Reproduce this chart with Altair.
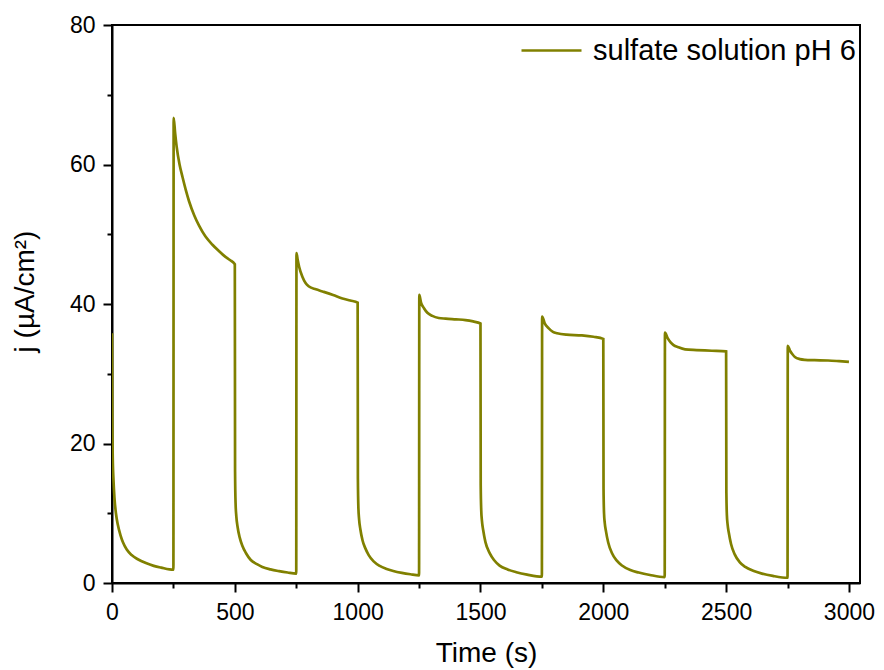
import altair as alt
import pandas as pd

# Time (s) and current density j (uA/cm2), read segment by segment (light off / on every 250 s)
t_off_0 = [0, 1, 3, 6, 10, 16, 24, 35, 45, 60, 80, 105, 138, 170, 200, 250]
j_off_0 = [35.8, 25.0, 18.0, 14.8, 12.2, 10.0, 8.3, 6.8, 5.8, 4.8, 4.0, 3.4, 2.85, 2.45, 2.2, 1.9]

t_on_1 = [251, 257, 263, 275, 287, 300, 314, 335, 355, 380, 409, 435, 457, 480, 500]
j_on_1 = [66.7, 64.5, 62.6, 60.0, 58.2, 56.4, 54.7, 52.7, 51.2, 49.7, 48.5, 47.6, 46.9, 46.3, 45.7]

t_off_1 = [501, 503, 506, 511, 520, 531, 545, 565, 590, 612, 645, 680, 715, 750]
j_off_1 = [16.0, 11.5, 9.6, 8.1, 6.5, 5.3, 4.3, 3.3, 2.7, 2.3, 1.95, 1.7, 1.5, 1.35]

t_on_2 = [751, 756, 762, 775, 788, 802, 830, 857, 900, 938, 970, 1000]
j_on_2 = [47.3, 46.3, 45.3, 43.9, 43.0, 42.5, 42.1, 41.8, 41.3, 40.8, 40.5, 40.2]

t_off_2 = [1001, 1003, 1006, 1011, 1020, 1031, 1045, 1065, 1090, 1115, 1145, 1180, 1215, 1250]
j_off_2 = [15.0, 10.8, 9.1, 7.7, 6.1, 5.0, 4.0, 3.1, 2.45, 2.05, 1.72, 1.45, 1.25, 1.1]

t_on_3 = [1251, 1258, 1270, 1285, 1304, 1330, 1358, 1400, 1439, 1470, 1500]
j_on_3 = [41.3, 40.2, 39.4, 38.7, 38.3, 38.0, 37.9, 37.8, 37.7, 37.5, 37.2]

t_off_3 = [1501, 1503, 1506, 1511, 1520, 1538, 1555, 1578, 1610, 1646, 1690, 1750]
j_off_3 = [14.0, 10.5, 8.9, 7.6, 5.9, 4.25, 3.3, 2.5, 1.95, 1.55, 1.2, 0.9]

t_on_4 = [1751, 1762, 1778, 1795, 1812, 1850, 1913, 1960, 2000]
j_on_4 = [38.2, 37.2, 36.5, 36.0, 35.8, 35.6, 35.5, 35.3, 35.0]

t_off_4 = [2001, 2003, 2006, 2011, 2020, 2035, 2055, 2076, 2110, 2144, 2190, 2250]
j_off_4 = [13.5, 10.0, 8.6, 7.4, 5.8, 4.3, 3.2, 2.5, 1.85, 1.5, 1.15, 0.85]

t_on_5 = [2251, 2262, 2274, 2286, 2305, 2333, 2380, 2442, 2500]
j_on_5 = [35.9, 35.1, 34.5, 34.1, 33.8, 33.5, 33.4, 33.3, 33.2]

t_off_5 = [2501, 2503, 2506, 2511, 2520, 2535, 2555, 2578, 2610, 2646, 2690, 2750]
j_off_5 = [13.0, 9.8, 8.4, 7.2, 5.6, 4.1, 3.0, 2.3, 1.75, 1.35, 1.02, 0.75]

t_on_6 = [2751, 2760, 2770, 2780, 2800, 2821, 2860, 2915, 2960, 3000]
j_on_6 = [34.0, 33.3, 32.8, 32.4, 32.1, 32.0, 31.95, 31.9, 31.8, 31.7]

series_name = "sulfate solution pH 6"
x_major = [0, 500, 1000, 1500, 2000, 2500, 3000]
x_minor = [250, 750, 1250, 1750, 2250, 2750]
y_major = [0, 20, 40, 60, 80]
y_minor = [10, 30, 50, 70]

t_all = (t_off_0 + t_on_1 + t_off_1 + t_on_2 + t_off_2 + t_on_3 + t_off_3
         + t_on_4 + t_off_4 + t_on_5 + t_off_5 + t_on_6)
j_all = (j_off_0 + j_on_1 + j_off_1 + j_on_2 + j_off_2 + j_on_3 + j_off_3
         + j_on_4 + j_off_4 + j_on_5 + j_off_5 + j_on_6)

df = pd.DataFrame({"t": t_all, "j": j_all, "idx": list(range(len(t_all))),
                   "series": [series_name] * len(t_all)})

FONT = "Liberation Sans"
xscale = alt.Scale(domain=[0, 3045], nice=False, zero=False)
yscale = alt.Scale(domain=[0, 80], nice=False)

main = alt.Chart(df).mark_line(strokeWidth=2.7, clip=True, interpolate="monotone").encode(
    x=alt.X("t:Q", scale=xscale, axis=alt.Axis(
        values=x_major, format="d", title="Time (s)", orient="bottom", grid=False,
        tickSize=9, tickWidth=2, domainWidth=2, domainColor="black", tickColor="black",
        labelFont=FONT, labelFontSize=23, labelColor="black", labelPadding=9,
        labelFlush=False, titleFont=FONT, titleFontSize=28, titleFontWeight="normal",
        titleColor="black", titlePadding=15)),
    y=alt.Y("j:Q", scale=yscale, axis=alt.Axis(
        values=y_major, format="d", title="j (µA/cm²)", orient="left", grid=False,
        tickSize=9, tickWidth=2, domainWidth=2, domainColor="black", tickColor="black",
        labelFont=FONT, labelFontSize=23, labelColor="black", labelPadding=8,
        labelFlush=False, titleFont=FONT, titleFontSize=28, titleFontWeight="normal",
        titleColor="black", titlePadding=30, titleY=266)),
    color=alt.Color("series:N", scale=alt.Scale(range=["#808000"]), legend=alt.Legend(
        title=None, orient="none", legendX=408, legendY=-6, symbolType="stroke",
        symbolSize=3600, symbolStrokeWidth=2.7, labelFont=FONT, labelFontSize=29,
        labelColor="black", labelOffset=10, labelLimit=0)),
    order="idx:Q",
)

minor = alt.Chart(df).mark_line(strokeOpacity=0).encode(
    x=alt.X("t:Q", scale=xscale, axis=alt.Axis(
        values=x_minor, title=None, orient="bottom", grid=False, labels=False,
        domain=False, tickSize=5, tickWidth=2, tickColor="black")),
    y=alt.Y("j:Q", scale=yscale, axis=alt.Axis(
        values=y_minor, title=None, orient="left", grid=False, labels=False,
        domain=False, tickSize=5, tickWidth=2, tickColor="black")),
)

chart = alt.layer(main, minor).resolve_axis(x="independent", y="independent").properties(
    width=748, height=558,
    autosize=alt.AutoSizeParams(type="none"),
    padding={"left": 104, "top": 17, "right": 16, "bottom": 85},
).configure_view(stroke="black", strokeWidth=2)

chart.save("out.html", embed_options={"renderer": "svg", "actions": False})
